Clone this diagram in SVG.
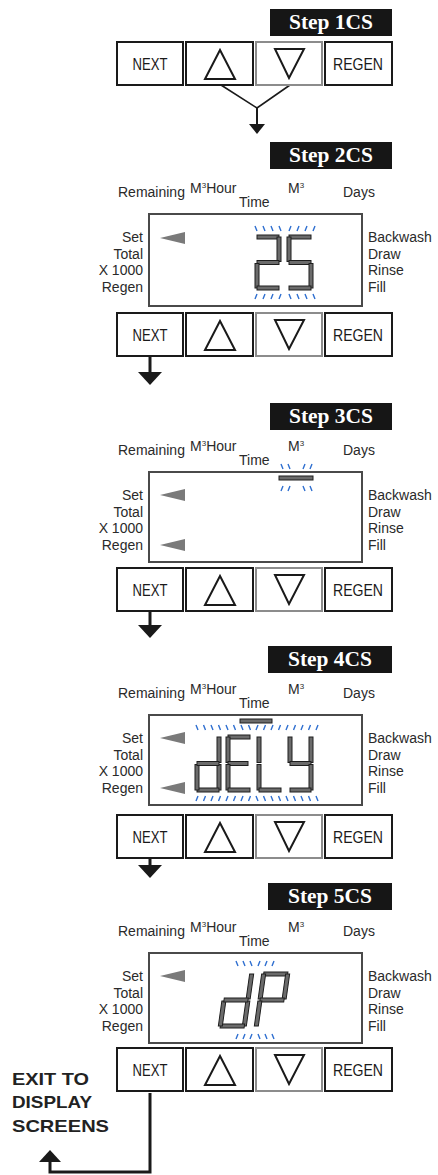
<svg xmlns="http://www.w3.org/2000/svg" width="438" height="1175" viewBox="0 0 438 1175">
<style>
.stepbox{fill:#161616}
.steptxt{font-family:"Liberation Serif",serif;font-weight:bold;font-size:20px;fill:#fff;text-anchor:middle}
.btn{fill:#fff;stroke:#1a1a1a;stroke-width:2}
.btn2{fill:#fff;stroke:#8c8c8c;stroke-width:2}
.tri{fill:none;stroke:#1a1a1a;stroke-width:2;stroke-linejoin:miter}
.btxt{font-family:"Liberation Sans",Arial,sans-serif;font-size:17px;fill:#1a1a1a;text-anchor:middle}
.lbl{font-family:"Liberation Sans",Arial,sans-serif;font-size:14px;fill:#2a2a2a}
.lr{text-anchor:end}
.sup{font-size:8px}
.disp{fill:#fff;stroke:#4a4a4a;stroke-width:2}
.ptr{fill:#7a7a7a}
.seg{fill:#6b6b6b;stroke:#1e1e1e;stroke-width:1}
.tick{fill:none;stroke:#2f6fd0;stroke-width:1.4}
.conn{fill:none;stroke:#1a1a1a}
.exit{font-family:"Liberation Sans",Arial,sans-serif;font-weight:bold;font-size:17px;fill:#222}
</style>
<defs>
<marker id="ahBig" markerUnits="userSpaceOnUse" markerWidth="14" markerHeight="24" refX="0" refY="12" orient="auto">
<path d="M0,0 L13,12 L0,24 z" fill="#1a1a1a"/>
</marker>
<marker id="ahSmall" markerUnits="userSpaceOnUse" markerWidth="11" markerHeight="16" refX="0" refY="8" orient="auto">
<path d="M0,0 L10,8 L0,16 z" fill="#1a1a1a"/>
</marker>
<marker id="ahExit" markerUnits="userSpaceOnUse" markerWidth="13" markerHeight="22" refX="0" refY="11" orient="auto">
<path d="M0,0 L12,11 L0,22 z" fill="#1a1a1a"/>
</marker>
<g id="buttons">
<rect class="btn" x="117" y="0" width="66" height="43"/>
<text class="btxt" x="150" y="28" textLength="35" lengthAdjust="spacingAndGlyphs">NEXT</text>
<rect class="btn" x="186" y="0" width="67" height="43"/>
<polygon class="tri" points="220,8 205,37 235,37"/>
<rect class="btn2" x="256" y="0" width="66" height="43"/>
<polygon class="tri" points="275,7 304,7 289,36"/>
<rect class="btn" x="325" y="0" width="67" height="43"/>
<text class="btxt" x="358" y="28" textLength="50" lengthAdjust="spacingAndGlyphs">REGEN</text>
</g>
<g id="labels">
<text class="lbl" x="118" y="-17">Remaining</text>
<text class="lbl" x="190" y="-21">M<tspan class="sup" dy="-5">3</tspan><tspan dy="5">Hour</tspan></text>
<text class="lbl" x="239" y="-7">Time</text>
<text class="lbl" x="288" y="-21">M<tspan class="sup" dy="-5">3</tspan></text>
<text class="lbl" x="343" y="-17">Days</text>
<text class="lbl lr" x="143" y="28">Set</text>
<text class="lbl lr" x="143" y="44.5">Total</text>
<text class="lbl lr" x="143" y="61">X 1000</text>
<text class="lbl lr" x="143" y="77.5">Regen</text>
<text class="lbl" x="368" y="28">Backwash</text>
<text class="lbl" x="368" y="44.5">Draw</text>
<text class="lbl" x="368" y="61">Rinse</text>
<text class="lbl" x="368" y="77.5">Fill</text>
</g>
</defs>

<g id="connectors">
<path class="conn" stroke-width="1.6" d="M221,85 L257,108 L290,85"/>
<path class="conn" stroke-width="2" d="M257,108 L257,124" marker-end="url(#ahSmall)"/>
<path class="conn" stroke-width="3" d="M150,357 L150,372" marker-end="url(#ahBig)"/>
<path class="conn" stroke-width="3" d="M150,612 L150,625" marker-end="url(#ahBig)"/>
<path class="conn" stroke-width="3" d="M150,858 L150,865" marker-end="url(#ahBig)"/>
<path class="conn" stroke-width="3" d="M150,1093 L150,1172 L50,1172 L50,1162" marker-end="url(#ahExit)"/>
</g>

<g id="step1">
<rect class="stepbox" x="270" y="9" width="122" height="27"/>
<text class="steptxt" x="331" y="29" textLength="84" lengthAdjust="spacingAndGlyphs">Step 1CS</text>
<use href="#buttons" y="42"/>
</g>

<g id="step2">
<rect class="stepbox" x="270" y="142" width="122" height="27"/>
<text class="steptxt" x="331" y="162" textLength="84" lengthAdjust="spacingAndGlyphs">Step 2CS</text>
<use href="#labels" y="214"/>
<rect class="disp" x="149" y="214" width="213" height="92"/>
<polygon class="ptr" points="160,238 185,232 185,244"/>
<path class="tick" d="M255,226 l2,5 M263,226 l2,5 M271,226 l2,5 M279,226 l2,5 M291,226 l-2,5 M299,226 l-2,5 M307,226 l-2,5 M315,226 l-2,5"/>
<g>
<rect class="seg" x="257" y="235" width="22" height="4"/>
<rect class="seg" x="277" y="237" width="4" height="24.5"/>
<rect class="seg" x="257" y="260.5" width="22" height="4"/>
<rect class="seg" x="255" y="263.5" width="4" height="24.5"/>
<rect class="seg" x="257" y="286" width="22" height="4"/>
<rect class="seg" x="289" y="235" width="22" height="4"/>
<rect class="seg" x="287" y="237" width="4" height="24.5"/>
<rect class="seg" x="289" y="260.5" width="22" height="4"/>
<rect class="seg" x="309" y="263.5" width="4" height="24.5"/>
<rect class="seg" x="289" y="286" width="22" height="4"/>
</g>
<path class="tick" d="M257,294 l-2,5 M265,294 l-2,5 M273,294 l-2,5 M281,294 l-2,5 M289,294 l2,5 M297,294 l2,5 M305,294 l2,5 M313,294 l2,5"/>
<use href="#buttons" y="313"/>
</g>

<g id="step3">
<rect class="stepbox" x="270" y="403" width="122" height="27"/>
<text class="steptxt" x="331" y="423" textLength="84" lengthAdjust="spacingAndGlyphs">Step 3CS</text>
<use href="#labels" y="472"/>
<rect class="disp" x="149" y="472" width="213" height="90"/>
<polygon class="ptr" points="160,495 185,489 185,501"/>
<polygon class="ptr" points="160,545 185,539 185,551"/>
<path class="tick" d="M281,464 l2,5 M288,464 l2,5 M305,464 l-2,5 M312,464 l-2,5"/>
<rect class="seg" x="279" y="476" width="34" height="4"/>
<path class="tick" d="M283,486 l-2,5 M290,486 l-2,5 M303,486 l2,5 M310,486 l2,5"/>
<use href="#buttons" y="568"/>
</g>

<g id="step4">
<rect class="stepbox" x="268" y="646" width="124" height="27"/>
<text class="steptxt" x="330" y="666" textLength="84" lengthAdjust="spacingAndGlyphs">Step 4CS</text>
<use href="#labels" y="715"/>
<rect class="disp" x="149" y="715" width="213" height="90"/>
<polygon class="ptr" points="160,738 185,732 185,744"/>
<polygon class="ptr" points="160,788 185,782 185,794"/>
<rect class="seg" x="240" y="719" width="32" height="4"/>
<path class="tick" d="M196,725 l2,5 M203.5,725 l2,5 M211,725 l2,5 M218.5,725 l2,5 M226,725 l2,5 M233.5,725 l2,5 M241,725 l2,5 M248.5,725 l2,5 M258,725 l-2,5 M265.5,725 l-2,5 M273,725 l-2,5 M280.5,725 l-2,5 M288,725 l-2,5 M295.5,725 l-2,5 M303,725 l-2,5 M310.5,725 l-2,5 M318,725 l-2,5"/>
<g>
<rect class="seg" x="217" y="737" width="4" height="25.5"/>
<rect class="seg" x="217" y="764.5" width="4" height="25.5"/>
<rect class="seg" x="197" y="788" width="22" height="4"/>
<rect class="seg" x="195" y="764.5" width="4" height="25.5"/>
<rect class="seg" x="197" y="761.5" width="22" height="4"/>
<rect class="seg" x="228" y="735" width="22" height="4"/>
<rect class="seg" x="226" y="737" width="4" height="25.5"/>
<rect class="seg" x="228" y="761.5" width="20" height="4"/>
<rect class="seg" x="226" y="764.5" width="4" height="25.5"/>
<rect class="seg" x="228" y="788" width="22" height="4"/>
<rect class="seg" x="257" y="737" width="4" height="25.5"/>
<rect class="seg" x="257" y="764.5" width="4" height="25.5"/>
<rect class="seg" x="259" y="788" width="22" height="4"/>
<rect class="seg" x="288" y="737" width="4" height="25.5"/>
<rect class="seg" x="309" y="737" width="4" height="25.5"/>
<rect class="seg" x="290" y="761.5" width="21" height="4"/>
<rect class="seg" x="309" y="764.5" width="4" height="25.5"/>
<rect class="seg" x="290" y="788" width="21" height="4"/>
</g>
<path class="tick" d="M198,796 l-2,5 M205.5,796 l-2,5 M213,796 l-2,5 M220.5,796 l-2,5 M228,796 l-2,5 M235.5,796 l-2,5 M243,796 l-2,5 M250.5,796 l-2,5 M256,796 l2,5 M263.5,796 l2,5 M271,796 l2,5 M278.5,796 l2,5 M286,796 l2,5 M293.5,796 l2,5 M301,796 l2,5 M308.5,796 l2,5 M316,796 l2,5"/>
<use href="#buttons" y="815"/>
</g>

<g id="step5">
<rect class="stepbox" x="268" y="883" width="124" height="27"/>
<text class="steptxt" x="330" y="903" textLength="84" lengthAdjust="spacingAndGlyphs">Step 5CS</text>
<use href="#labels" y="953"/>
<rect class="disp" x="149" y="953" width="213" height="90"/>
<polygon class="ptr" points="160,976 185,970 185,982"/>
<path class="tick" d="M236,961 l2,5 M243,961 l2,5 M250,961 l2,5 M260,961 l-2,5 M267,961 l-2,5 M274,961 l-2,5"/>
<g transform="translate(0,1000) skewX(-8) translate(0,-1000)">
<rect class="seg" x="246" y="974" width="4" height="25"/>
<rect class="seg" x="246" y="1001" width="4" height="25"/>
<rect class="seg" x="224" y="1024" width="24" height="4"/>
<rect class="seg" x="222" y="1001" width="4" height="25"/>
<rect class="seg" x="224" y="998" width="24" height="4"/>
<rect class="seg" x="260" y="972" width="24" height="4"/>
<rect class="seg" x="282" y="974" width="4" height="25"/>
<rect class="seg" x="258" y="974" width="4" height="25"/>
<rect class="seg" x="260" y="998" width="24" height="4"/>
<rect class="seg" x="258" y="1001" width="4" height="25"/>
</g>
<path class="tick" d="M238,1034 l-2,5 M245,1034 l-2,5 M252,1034 l-2,5 M258,1034 l2,5 M265,1034 l2,5 M272,1034 l2,5"/>
<use href="#buttons" y="1048"/>
</g>

<g id="exit">
<text class="exit" x="12" y="1085" textLength="77" lengthAdjust="spacingAndGlyphs">EXIT TO</text>
<text class="exit" x="12" y="1108" textLength="80" lengthAdjust="spacingAndGlyphs">DISPLAY</text>
<text class="exit" x="12" y="1132" textLength="97" lengthAdjust="spacingAndGlyphs">SCREENS</text>
</g>
</svg>
